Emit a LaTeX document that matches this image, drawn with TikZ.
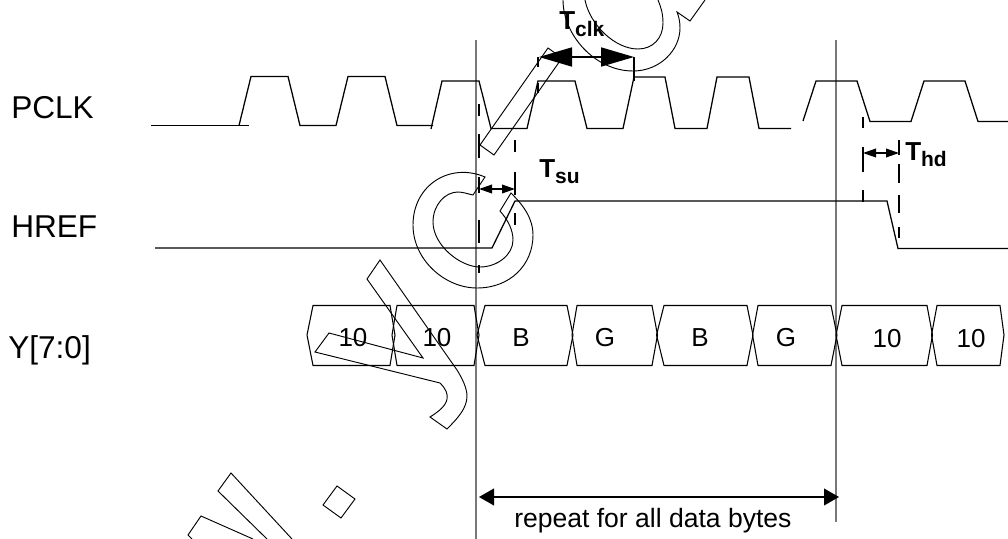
\documentclass[tikz,border=0pt]{standalone}
\usepackage{fontspec}
\setmainfont{Liberation Sans}
\usetikzlibrary{arrows.meta}
\newcommand{\szA}{\fontsize{23.7}{26}\selectfont}
\newcommand{\szB}{\fontsize{19.5}{21}\selectfont}
\newcommand{\szE}{\fontsize{19.9}{22}\selectfont}
\newcommand{\szC}{\fontsize{19.5}{22}\selectfont\bfseries}
\newcommand{\szD}{\fontsize{15.75}{18}\selectfont\bfseries}
\tikzset{
  wave/.style={black,line width=0.95pt,line join=miter},
  hexcell/.style={black,line width=0.8pt,line join=miter},
  guide/.style={gray!95!black,line width=1.15pt},
  dashseg/.style={black,line width=1.15pt},
  wmark/.style={black,line width=0.7pt,line join=miter},
  sig/.style={anchor=base west,inner sep=0pt,font=\szA},
  cell/.style={anchor=base,inner sep=0pt,font=\szB},
  repnote/.style={anchor=base west,inner sep=0pt,font=\szE},
  tim/.style={anchor=base west,inner sep=0pt},
  dimS/.style={black,line width=1.1pt,{Triangle[length=9.75pt,width=6.5pt]}-{Triangle[length=9.75pt,width=6.5pt]}},
  dimL/.style={black,line width=1.3pt,{Triangle[length=24.75pt,width=14.25pt]}-{Triangle[length=24.75pt,width=14.25pt]}},
  dimM/.style={black,line width=1.4pt,{Triangle[length=11.25pt,width=12.5pt]}-{Triangle[length=11.25pt,width=12.5pt]}},
}
\begin{document}
\begin{tikzpicture}[x=0.75pt,y=-0.75pt]
\useasboundingbox (0,0) rectangle (1008,539);
% guides
\draw[guide] (476,40) -- (476,539);
\draw[guide] (836,40) -- (836,522);
% PCLK
\draw[wave] (151,125.5) -- (249,125.5);
\draw[wave] (239,125.5) -- (251,76.5) -- (288,76.5) -- (300,125.5) -- (336,125.5) -- (348,76.5) -- (385,76.5) -- (397,125.5) -- (433,125.5);
\draw[wave] (431,129) -- (442,81) -- (479,81) -- (491,128.5) -- (527,128.5) -- (538,81) -- (575,81) -- (587,128.5) -- (623,128.5) -- (634,77) -- (665,77) -- (675,128.5) -- (707,128.5) -- (717,77) -- (749,77) -- (759,128.5) -- (791,128.5);
\draw[wave] (803,121) -- (816,81) -- (857,81) -- (870,121.5) -- (911,121.5) -- (924,81) -- (965,81) -- (978,121.5) -- (1008,121.5);
% HREF
\draw[wave] (155,248) -- (492,248) -- (515,201) -- (887,201) -- (898,248.5) -- (1008,248.5);
% Y data
\draw[hexcell] (313,305.5) -- (390,305.5) -- (395,335) -- (390,365.5) -- (313,365.5) -- (307,335) -- cycle;
\draw[hexcell] (397,305.5) -- (474,305.5) -- (479,335) -- (474,365.5) -- (397,365.5) -- (392,335) -- cycle;
\draw[hexcell] (485,305.5) -- (567,305.5) -- (573,335) -- (567,365.5) -- (485,365.5) -- (477,335) -- cycle;
\draw[hexcell] (577,305.5) -- (652,305.5) -- (657.5,335) -- (652,365.5) -- (577,365.5) -- (572,335) -- cycle;
\draw[hexcell] (664,305.5) -- (747,305.5) -- (753,335) -- (747,365.5) -- (664,365.5) -- (656.5,335) -- cycle;
\draw[hexcell] (758,305.5) -- (831,305.5) -- (837,335) -- (831,365.5) -- (758,365.5) -- (752.5,335) -- cycle;
\draw[hexcell] (842,305.5) -- (927,305.5) -- (932.5,335) -- (927,365.5) -- (842,365.5) -- (836,335) -- cycle;
\draw[hexcell] (937,305.5) -- (1000,305.5) -- (1004,335) -- (1000,365.5) -- (937,365.5) -- (931.5,335) -- cycle;
% dashed guides
\foreach \a/\b in {104/116,134/158,177/193,220/243,265/273} \draw[dashseg] (479,\a) -- (479,\b);
\foreach \a/\b in {140/152,172/195,213/225} \draw[dashseg] (515,\a) -- (515,\b);
\foreach \a/\b in {117/128,147/172,190/202} \draw[dashseg] (863,\a) -- (863,\b);
\foreach \a/\b in {140/155,164/183,195/213,227/238} \draw[dashseg] (899,\a) -- (899,\b);
\foreach \a/\b in {57/67,83/93} \draw[dashseg] (538,\a) -- (538,\b);
\draw[dashseg] (634,57) -- (634,81);
% dimension arrows
\coordinate (suL) at (479,189); \coordinate (suR) at (515,189);
\coordinate (hdL) at (863,153); \coordinate (hdR) at (899,153);
\coordinate (ckL) at (539,57); \coordinate (ckR) at (634,57);
\coordinate (rpL) at (479,497); \coordinate (rpR) at (839,497);
\draw[dimS] (suL) -- (suR);
\draw[dimS] (hdL) -- (hdR);
\draw[dimL] (ckL) -- (ckR);
\draw[dimM] (rpL) -- (rpR);
% labels
\node[sig] (pclk) at (11,118) {PCLK};
\node[sig] (href) at (11,237) {HREF};
\node[sig] (ydat) at (8,358) {Y[7:0]};
\node[cell] (d1) at (353,346) {10};
\node[cell] (d2) at (437,346) {10};
\node[cell] (d3) at (521,346) {B};
\node[cell] (d4) at (605,346) {G};
\node[cell] (d5) at (700,346) {B};
\node[cell] (d6) at (786,346) {G};
\node[cell] (d7) at (887,347) {10};
\node[cell] (d8) at (971,347) {10};
\node[tim] (tclk) at (559,30) {\szC T\raisebox{-5pt}{\szD clk}};
\node[tim] (tsu) at (539,177) {\szC T\raisebox{-5pt}{\szD su}};
\node[tim] (thd) at (905,160) {\szC T\raisebox{-5pt}{\szD hd}};
\node[repnote] (rep) at (514,527) {repeat for all data bytes};
% watermark outlines
\draw[wmark] (548,48) -- (480,145) -- (494,155) -- (562,58) -- cycle;
\draw[wmark] (485,177) .. controls (450,162) and (413,185) .. (413,225) .. controls (413,260) and (445,288) .. (477,288) .. controls (510,288) and (533,265) .. (533,235) .. controls (533,218) and (523,205) .. (511,193) -- (500,211) .. controls (508,220) and (513,230) .. (513,240) .. controls (513,255) and (497,267) .. (480,267) .. controls (460,267) and (433,245) .. (433,222) .. controls (433,205) and (445,192) .. (458,192) .. controls (463,192) and (468,194) .. (473,195) -- cycle;
\draw[wmark] (563,0) .. controls (563,35) and (595,71) .. (633,71) .. controls (660,71) and (680,50) .. (680,28) .. controls (680,22) and (679,17) .. (677,12) -- (690,21) -- (705,0);
\draw[wmark] (585,0) .. controls (590,25) and (615,49) .. (638,49) .. controls (653,49) and (663,38) .. (663,23) .. controls (663,14) and (661,7) .. (658,0);
\draw[wmark] (380,260) -- (367,279) -- (423,358) -- (329,333) -- (315,352) -- (440,383) .. controls (446,389) and (448,394) .. (447,399) .. controls (446,406) and (438,412) .. (430,417) -- (447,429) .. controls (458,418) and (467,408) .. (467,396) .. controls (467,388) and (462,378) .. (457,370) -- cycle;
\draw[wmark] (292,539) -- (231,473) -- (218,491) -- (267,539);
\draw[wmark] (253,539) -- (201,516) -- (188,535) -- (192,539);
\draw[wmark] (337,486) -- (355,499) -- (341,518) -- (323,505) -- cycle;
\end{tikzpicture}
\end{document}
